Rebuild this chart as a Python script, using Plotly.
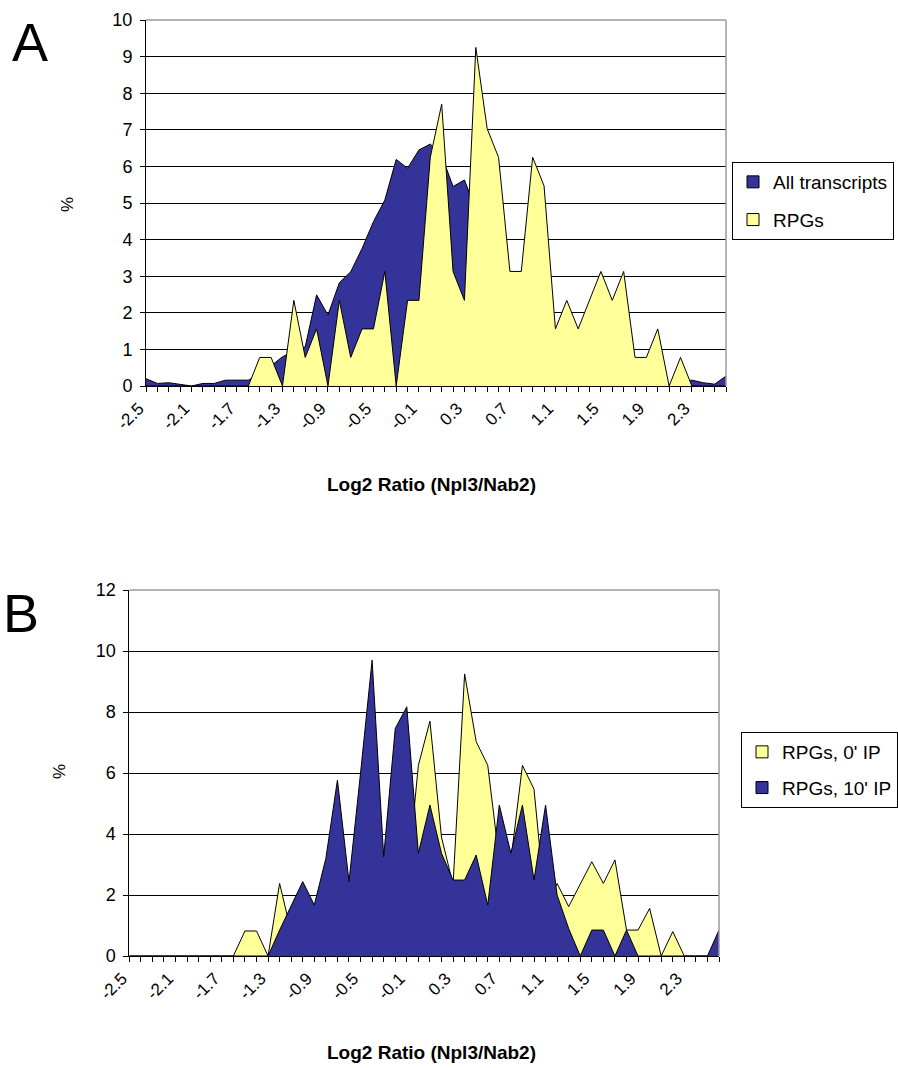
import plotly.graph_objects as go

W, H = 898, 1068

# ---------------- data ----------------
log2_ratio = [-2.5, -2.4, -2.3, -2.2, -2.1, -2.0, -1.9, -1.8, -1.7, -1.6,
              -1.5, -1.4, -1.3, -1.2, -1.1, -1.0, -0.9, -0.8, -0.7, -0.6,
              -0.5, -0.4, -0.3, -0.2, -0.1, 0.0, 0.1, 0.2, 0.3, 0.4,
              0.5, 0.6, 0.7, 0.8, 0.9, 1.0, 1.1, 1.2, 1.3, 1.4,
              1.5, 1.6, 1.7, 1.8, 1.9, 2.0, 2.1, 2.2, 2.3, 2.4,
              2.5, 2.6]
tick_labels = ["-2.5", "", "", "", "-2.1", "", "", "", "-1.7", "",
               "", "", "-1.3", "", "", "", "-0.9", "", "", "",
               "-0.5", "", "", "", "-0.1", "", "", "", "0.3", "",
               "", "", "0.7", "", "", "", "1.1", "", "", "",
               "1.5", "", "", "", "1.9", "", "", "", "2.3", "",
               "", ""]

all_transcripts = [0.20, 0.07, 0.09, 0.05, 0.00, 0.07, 0.07, 0.16, 0.16, 0.16,
                   0.33, 0.55, 0.80, 0.95, 1.07, 2.49, 1.94, 2.82, 3.12, 3.76,
                   4.49, 5.08, 6.19, 5.95, 6.45, 6.61, 6.30, 5.45, 5.63, 4.80,
                   4.00, 3.30, 2.60, 2.00, 1.50, 1.10, 0.80, 0.60, 0.45, 0.35,
                   0.30, 0.25, 0.20, 0.15, 0.10, 0.10, 0.03, 0.10, 0.16, 0.09,
                   0.05, 0.27]
rpgs = [0, 0, 0, 0, 0, 0, 0, 0, 0, 0,
        0.78, 0.78, 0, 2.34, 0.78, 1.56, 0, 2.34, 0.78, 1.56,
        1.56, 3.13, 0, 2.34, 2.34, 6.25, 7.70, 3.13, 2.34, 9.25,
        7.03, 6.25, 3.13, 3.13, 6.25, 5.47, 1.56, 2.34, 1.56, 2.34,
        3.13, 2.34, 3.13, 0.78, 0.78, 1.56, 0, 0.78, 0, 0,
        0, 0]

rpgs_0ip = [0, 0, 0, 0, 0, 0, 0, 0, 0, 0,
            0.82, 0.82, 0, 2.38, 0.78, 1.56, 0, 2.34, 0.78, 1.56,
            1.56, 3.13, 0, 2.34, 2.34, 6.25, 7.70, 3.90, 2.34, 9.25,
            7.03, 6.25, 3.13, 3.13, 6.25, 5.47, 1.56, 2.38, 1.62, 2.34,
            3.09, 2.38, 3.15, 0.85, 0.85, 1.56, 0, 0.80, 0, 0,
            0, 0]
rpgs_10ip = [0, 0, 0, 0, 0, 0, 0, 0, 0, 0,
             0, 0, 0, 0.85, 1.62, 2.44, 1.67, 3.20, 5.77, 2.44,
             6.00, 9.70, 3.26, 7.46, 8.17, 3.37, 4.95, 3.37, 2.49, 2.49,
             3.31, 1.67, 4.95, 3.37, 4.95, 2.49, 4.95, 2.00, 0.90, 0,
             0.85, 0.85, 0, 0.85, 0, 0, 0, 0, 0, 0,
             0, 0.85]

NAVY = "#333399"
YELLOW = "#FFFF99"
FONT = "Liberation Sans, Arial, sans-serif"


def px_x(v):
    return v / W


def px_y(v):
    return 1 - v / H


# plot areas in pixels (left, right, top, bottom)
A_BOX = (146, 726, 20, 386)
B_BOX = (129.3, 719, 590, 956)

fig = go.Figure()


def area(x, y, color, xa, ya):
    return go.Scatter(x=x, y=y, mode="lines", fill="tozeroy", fillcolor=color,
                      line=dict(color="black", width=1), showlegend=False,
                      hoverinfo="skip", xaxis=xa, yaxis=ya)


def legend_dummy(name, color, legend, group):
    return go.Scatter(x=[None], y=[None], mode="markers", name=name,
                      marker=dict(symbol="square", size=12, color=color,
                                  line=dict(color="black", width=1)),
                      legend=legend, legendgroup=group, showlegend=True,
                      xaxis="x", yaxis="y")


# Panel A (All transcripts behind, RPGs in front)
fig.add_trace(area(log2_ratio, all_transcripts, NAVY, "x", "y"))
fig.add_trace(area(log2_ratio, rpgs, YELLOW, "x", "y"))
# Panel B (0' IP behind, 10' IP in front)
fig.add_trace(area(log2_ratio, rpgs_0ip, YELLOW, "x2", "y2"))
fig.add_trace(area(log2_ratio, rpgs_10ip, NAVY, "x2", "y2"))

fig.add_trace(legend_dummy("All transcripts", NAVY, "legend", "a1"))
fig.add_trace(legend_dummy("RPGs", YELLOW, "legend", "a2"))
fig.add_trace(legend_dummy("RPGs, 0' IP", YELLOW, "legend2", "b1"))
fig.add_trace(legend_dummy("RPGs, 10' IP", NAVY, "legend2", "b2"))


def xaxis_cfg(box):
    return dict(domain=[px_x(box[0]), px_x(box[1])], range=[log2_ratio[0], log2_ratio[-1]],
                tickmode="array", tickvals=log2_ratio, ticktext=tick_labels,
                tickangle=-45, ticks="outside", ticklen=5, tickcolor="black",
                ticklabelshift=-7,
                tickfont=dict(family=FONT, size=17, color="black"),
                showline=True, linecolor="black", linewidth=1,
                showgrid=False, zeroline=False, fixedrange=True, automargin=False)


def yaxis_cfg(box, top, step):
    return dict(domain=[px_y(box[3]), px_y(box[2])], range=[0, top], dtick=step,
                tick0=0, ticks="outside", ticklen=5, tickcolor="black",
                tickfont=dict(family=FONT, size=18, color="black"),
                ticklabelstandoff=4,
                showline=True, linecolor="black", linewidth=1,
                showgrid=True, gridcolor="black", gridwidth=1,
                zeroline=False, fixedrange=True, automargin=False)


fig.update_layout(
    width=W, height=H, margin=dict(l=0, r=0, t=0, b=0),
    paper_bgcolor="white", plot_bgcolor="white",
    font=dict(family=FONT, color="black"),
    xaxis=xaxis_cfg(A_BOX), yaxis=yaxis_cfg(A_BOX, 10, 1),
    xaxis2=dict(xaxis_cfg(B_BOX), anchor="y2"),
    yaxis2=dict(yaxis_cfg(B_BOX, 12, 2), anchor="x2"),
    legend=dict(x=px_x(732), y=px_y(162), xanchor="left", yanchor="top",
                bordercolor="black", borderwidth=1, bgcolor="white",
                font=dict(family=FONT, size=19, color="black"),
                tracegroupgap=10, traceorder="grouped"),
    legend2=dict(x=px_x(741), y=px_y(732), xanchor="left", yanchor="top",
                 bordercolor="black", borderwidth=1, bgcolor="white",
                 font=dict(family=FONT, size=19, color="black"),
                 tracegroupgap=8, traceorder="grouped"),
    showlegend=True,
)
fig.layout.xaxis.anchor = "y"
fig.layout.yaxis.anchor = "x"

# grey plot-area border (top and right)
shapes = []
for (l, r, t, b) in (A_BOX, B_BOX):
    shapes.append(dict(type="line", xref="paper", yref="paper",
                       x0=px_x(l), x1=px_x(r), y0=px_y(t), y1=px_y(t),
                       line=dict(color="#9a9a9a", width=1.5), layer="above"))
    shapes.append(dict(type="line", xref="paper", yref="paper",
                       x0=px_x(r), x1=px_x(r), y0=px_y(t), y1=px_y(b),
                       line=dict(color="#9a9a9a", width=1.5), layer="above"))
fig.update_layout(shapes=shapes)

annotations = [
    dict(text="A", x=px_x(30), y=px_y(42), font=dict(size=54)),
    dict(text="B", x=px_x(21), y=px_y(613), font=dict(size=54)),
    dict(text="%", x=px_x(68), y=px_y(205), textangle=-90, font=dict(size=17)),
    dict(text="%", x=px_x(59), y=px_y(772), textangle=-90, font=dict(size=17)),
    dict(text="<b>Log2 Ratio (Npl3/Nab2)</b>", x=px_x(431), y=px_y(484), font=dict(size=19)),
    dict(text="<b>Log2 Ratio (Npl3/Nab2)</b>", x=px_x(431), y=px_y(1052), font=dict(size=19)),
]
for a in annotations:
    a.update(xref="paper", yref="paper", showarrow=False, xanchor="center", yanchor="middle")
    a["font"].update(family=FONT, color="black")
fig.update_layout(annotations=annotations)

fig.write_html("out.html", config={"displayModeBar": False})
